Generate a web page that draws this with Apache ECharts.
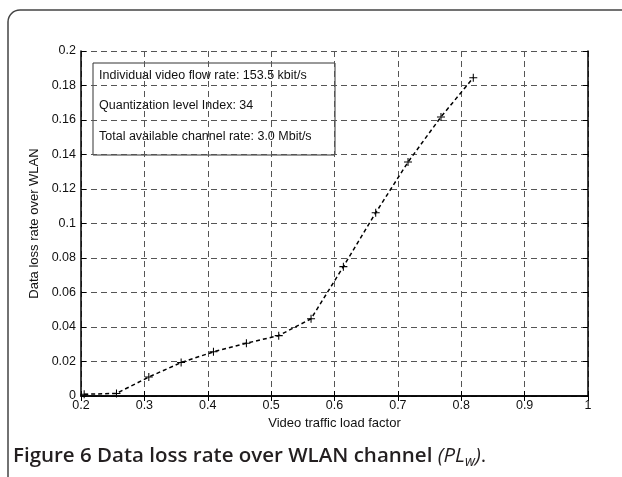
<!DOCTYPE html>
<html>
<head>
<meta charset="utf-8">
<script src="https://cdn.jsdelivr.net/npm/echarts@6/dist/echarts.min.js"></script>
<style>
html,body{margin:0;padding:0;background:#fff;}
#chart{width:622px;height:477px;}
</style>
</head>
<body>
<div id="chart"></div>
<script>
// Data
var loadFactor = [0.205, 0.256, 0.307, 0.358, 0.409, 0.461, 0.512, 0.563, 0.614, 0.665, 0.716, 0.768, 0.819];
var lossRate   = [0.001, 0.0015, 0.011, 0.0194, 0.0256, 0.0306, 0.035, 0.0448, 0.075, 0.1062, 0.1356, 0.1618, 0.1845];
var xTickLabels = ['0.2', '0.3', '0.4', '0.5', '0.6', '0.7', '0.8', '0.9', '1'];
var yTickLabels = ['0', '0.02', '0.04', '0.06', '0.08', '0.1', '0.12', '0.14', '0.16', '0.18', '0.2'];
var infoLines = [
  'Individual video flow rate: 153.5 kbit/s',
  'Quantization level Index: 34',
  'Total available channel rate: 3.0 Mbit/s'
];
var xName = 'Video traffic load factor';
var yName = 'Data loss rate over WLAN';

var chart = echarts.init(document.getElementById('chart'), null, {renderer: 'canvas'});
var FONT = '"Liberation Sans", Arial, Helvetica, sans-serif';
var CAP = '"Open Sans", sans-serif';
var plusPath = 'path://M-0.13,-1 L0.13,-1 L0.13,-0.13 L1,-0.13 L1,0.13 L0.13,0.13 L0.13,1 L-0.13,1 L-0.13,0.13 L-1,0.13 L-1,-0.13 L-0.13,-0.13 Z';

var pts = loadFactor.map(function (x, i) { return [x, lossRate[i]]; });

var option = {
  animation: false,
  backgroundColor: '#ffffff',
  grid: {left: 81, right: 34, top: 51, bottom: 81, show: false},
  xAxis: [{
    type: 'value', min: 0.2, max: 1, interval: 0.1,
    name: xName, nameLocation: 'middle', nameGap: 21,
    nameTextStyle: {color: '#111', fontSize: 13, fontFamily: FONT},
    axisLine: {show: true, lineStyle: {color: '#000', width: 1.5}},
    axisTick: {show: true, inside: true, length: 5, lineStyle: {color: '#000'}},
    axisLabel: {color: '#111', fontSize: 12.5, fontFamily: FONT, margin: 3,
      formatter: function (v, i) { return xTickLabels[i]; }},
    splitLine: {show: true, lineStyle: {color: '#555', width: 1, type: [6, 4]}}
  }, {
    type: 'value', min: 0.2, max: 1, interval: 0.1, position: 'top',
    axisLine: {show: true, lineStyle: {color: '#000', width: 1.5}},
    axisTick: {show: true, inside: true, length: 5, lineStyle: {color: '#000'}},
    axisLabel: {show: false}, splitLine: {show: false}
  }],
  yAxis: [{
    type: 'value', min: 0, max: 0.2, interval: 0.02,
    name: yName, nameLocation: 'middle', nameGap: 37, nameRotate: 90,
    nameTextStyle: {color: '#111', fontSize: 13, fontFamily: FONT},
    axisLine: {show: true, lineStyle: {color: '#000', width: 1.5}},
    axisTick: {show: true, inside: true, length: 5, lineStyle: {color: '#000'}},
    axisLabel: {color: '#111', fontSize: 12.5, fontFamily: FONT, margin: 5,
      formatter: function (v, i) { return yTickLabels[i]; }},
    splitLine: {show: true, lineStyle: {color: '#555', width: 1, type: [6, 4]}}
  }, {
    type: 'value', min: 0, max: 0.2, interval: 0.02, position: 'right',
    axisLine: {show: true, lineStyle: {color: '#000', width: 1.5}},
    axisTick: {show: true, inside: true, length: 5, lineStyle: {color: '#000'}},
    axisLabel: {show: false}, splitLine: {show: false}
  }],
  series: [{
    type: 'line',
    data: pts,
    xAxisIndex: 0, yAxisIndex: 0,
    symbol: plusPath,
    symbolSize: 8,
    itemStyle: {color: '#000'},
    lineStyle: {color: '#000', width: 1.5, type: [4, 3]}
  }],
  graphic: [
    {
      type: 'rect', silent: true,
      shape: {x: 8, y: 10, width: 700, height: 600, r: 12},
      style: {fill: 'none', stroke: '#444', lineWidth: 1.5}
    },
    {
      type: 'rect', silent: true,
      shape: {x: 93, y: 63, width: 242, height: 92},
      style: {fill: 'none', stroke: '#333', lineWidth: 1}
    },
    {
      type: 'text', silent: true, left: 99, top: 69,
      style: {text: infoLines[0], fill: '#111', font: '12.5px ' + FONT}
    },
    {
      type: 'text', silent: true, left: 99, top: 99,
      style: {text: infoLines[1], fill: '#111', font: '12.5px ' + FONT}
    },
    {
      type: 'text', silent: true, left: 99, top: 130,
      style: {text: infoLines[2], fill: '#111', font: '12.5px ' + FONT}
    },
    {
      type: 'text', silent: true, left: 13, top: 446,
      style: {
        text: '{a|Figure 6 Data loss rate over WLAN channel }{b|(PL}{c|w}{b|)}{d|.}',
        rich: {
          a: {fontFamily: CAP, fontSize: 20.5, fontWeight: 600, fill: '#231f20', color: '#231f20'},
          b: {fontFamily: CAP, fontSize: 20.5, fontStyle: 'italic', fill: '#231f20', color: '#231f20'},
          c: {fontFamily: CAP, fontSize: 14, fontStyle: 'italic', fill: '#231f20', color: '#231f20', padding: [11, 0, 0, 0]},
          d: {fontFamily: CAP, fontSize: 20.5, fill: '#231f20', color: '#231f20'}
        }
      }
    }
  ]
};
chart.setOption(option);
</script>
</body>
</html>
